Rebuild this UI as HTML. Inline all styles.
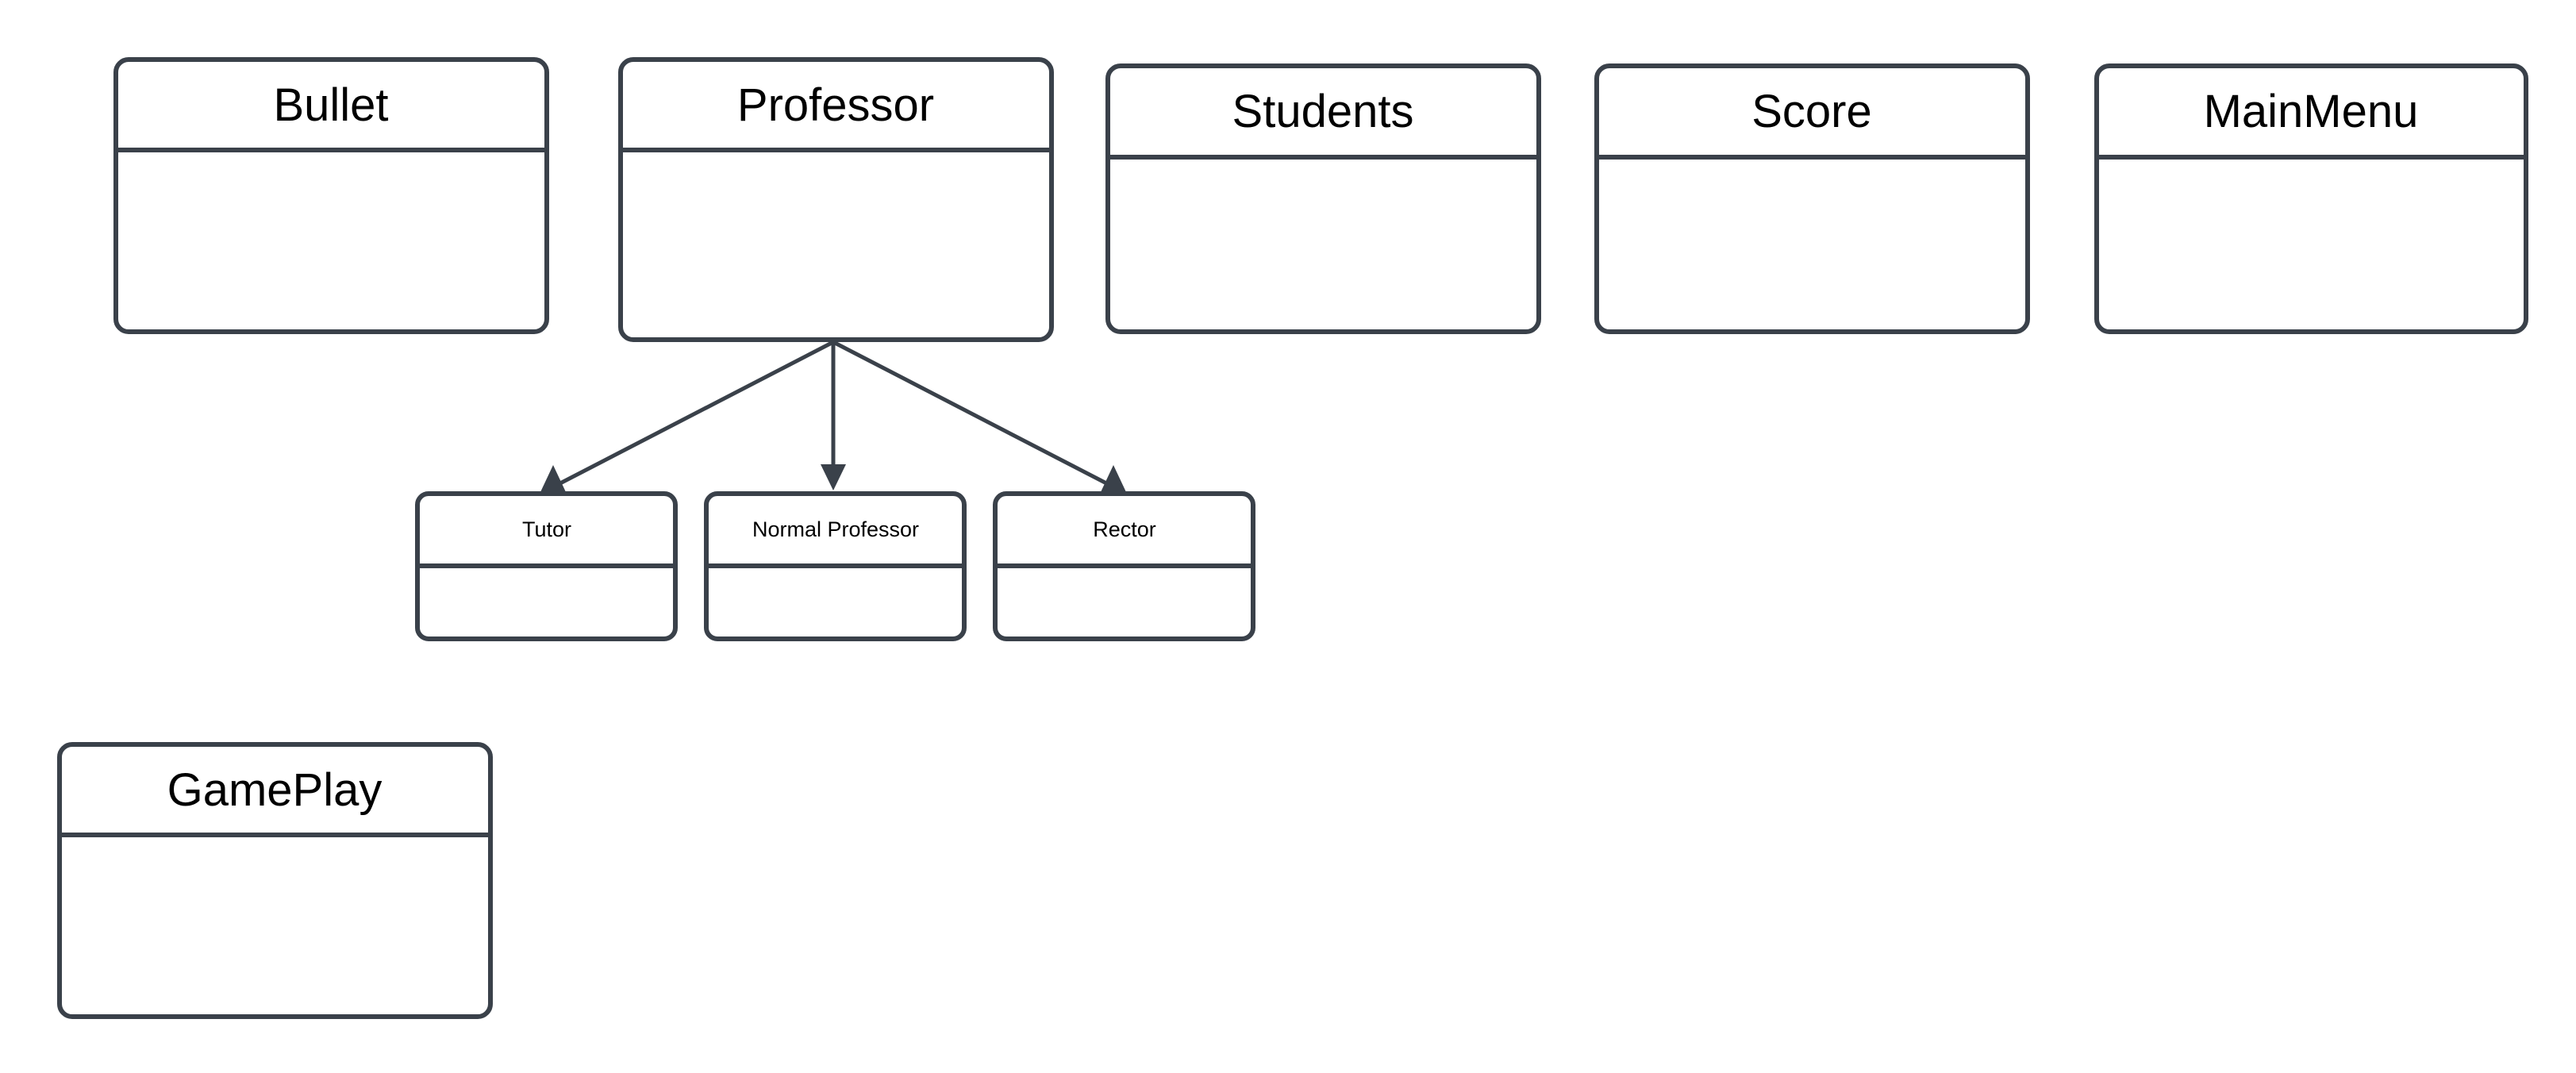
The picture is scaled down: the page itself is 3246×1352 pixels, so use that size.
<!DOCTYPE html>
<html><head><meta charset="utf-8"><style>
html,body{margin:0;padding:0;background:#fff;width:3246px;height:1352px;overflow:hidden}
text{font-family:"Liberation Sans",sans-serif;fill:#000}
</style></head><body>
<svg width="3246" height="1352" viewBox="0 0 3246 1352" xmlns="http://www.w3.org/2000/svg">
<g fill="#fff" stroke="#3a414a" stroke-width="6">
<rect x="146" y="75" width="543" height="343" rx="16"/><line x1="146" y1="189" x2="689" y2="189"/>
<rect x="782" y="75" width="543" height="353" rx="16"/><line x1="782" y1="189" x2="1325" y2="189"/>
<rect x="1396" y="83" width="543" height="335" rx="16"/><line x1="1396" y1="198" x2="1939" y2="198"/>
<rect x="2012" y="83" width="543" height="335" rx="16"/><line x1="2012" y1="198" x2="2555" y2="198"/>
<rect x="2642" y="83" width="541" height="335" rx="16"/><line x1="2642" y1="198" x2="3183" y2="198"/>
<rect x="526" y="622" width="325" height="183" rx="14"/><line x1="526" y1="713" x2="851" y2="713"/>
<rect x="890" y="622" width="325" height="183" rx="14"/><line x1="890" y1="713" x2="1215" y2="713"/>
<rect x="1254" y="622" width="325" height="183" rx="14"/><line x1="1254" y1="713" x2="1579" y2="713"/>
<rect x="75" y="938" width="543" height="343" rx="16"/><line x1="75" y1="1052" x2="618" y2="1052"/>
</g>
<g stroke="#3a414a" stroke-width="5" fill="none">
<line x1="1050" y1="431" x2="700" y2="612"/>
<line x1="1050" y1="431" x2="1050" y2="590"/>
<line x1="1050" y1="431" x2="1400" y2="612"/>
</g>
<g fill="#3a414a">
<polygon points="697,586 681,620 713,620"/>
<polygon points="1034,585 1066,585 1050,618"/>
<polygon points="1403,586 1387,620 1419,620"/>
</g>
<g font-size="58" text-anchor="middle">
<text x="417" y="152">Bullet</text>
<text x="1053" y="152">Professor</text>
<text x="1667" y="160">Students</text>
<text x="2283" y="160">Score</text>
<text x="2912" y="160">MainMenu</text>
<text x="346" y="1015">GamePlay</text>
</g>
<g font-size="27" text-anchor="middle">
<text x="689" y="676">Tutor</text>
<text x="1053" y="676">Normal Professor</text>
<text x="1417" y="676">Rector</text>
</g>
</svg>
</body></html>
